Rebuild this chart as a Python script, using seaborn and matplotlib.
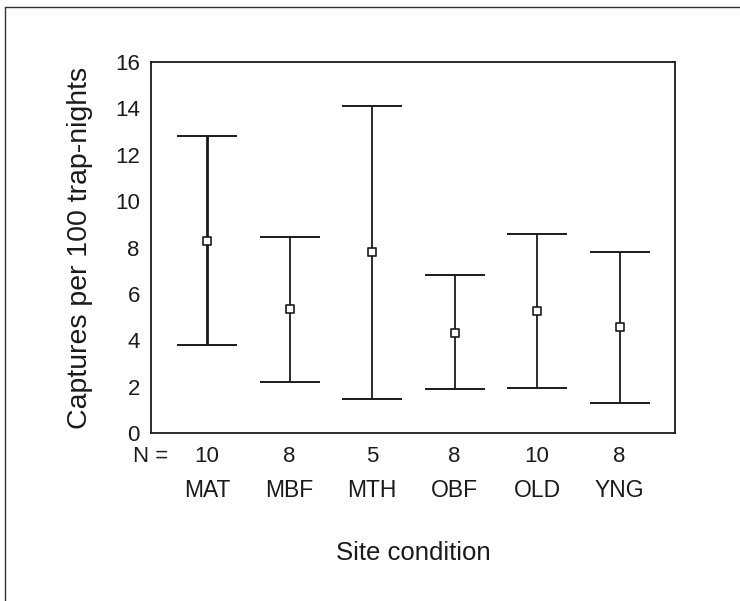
import numpy as np
import pandas as pd
import seaborn as sns
import matplotlib.pyplot as plt
from matplotlib.lines import Line2D

# values
sites = ["MAT", "MBF", "MTH", "OBF", "OLD", "YNG"]
n_sites = [10, 8, 5, 8, 10, 8]
mean_capt = [8.3, 5.33, 7.8, 4.32, 5.28, 4.58]
upper_ci = [12.8, 8.45, 14.1, 6.8, 8.6, 7.8]
lower_ci = [3.8, 2.2, 1.48, 1.9, 1.95, 1.3]
bar_width = [2.0, 1.3, 1.3, 1.3, 1.3, 1.3]

sns.set_style("white")
plt.rcParams['font.family'] = ['Liberation Sans', 'DejaVu Sans']

df = pd.DataFrame({"site": sites, "mean": mean_capt,
                   "lo": lower_ci, "hi": upper_ci, "n": n_sites})

fig = plt.figure(figsize=(7.4, 6.01), dpi=100)
ax = fig.add_axes([0.204, 0.2795, 0.708, 0.6173])

# error bars
for i, row in df.iterrows():
    ax.errorbar(i, row["mean"],
                yerr=[[row["mean"] - row["lo"]], [row["hi"] - row["mean"]]],
                fmt="none", ecolor="#1a1a1a", elinewidth=bar_width[i],
                capsize=21.5, capthick=1.4, zorder=2)

sns.scatterplot(data=df, x="site", y="mean", marker="s", s=26,
                facecolor="white", edgecolor="#1a1a1a", linewidth=1.2,
                ax=ax, zorder=3, legend=False)

ax.set_xlim(-0.68, 5.67)
ax.set_ylim(0, 16)
ax.set_yticks(np.arange(0, 17, 2))
ax.set_xticks(range(len(sites)))
ax.set_xticklabels([str(n) for n in n_sites])
ax.tick_params(axis="both", direction="out", length=5, width=1,
               color="#1a1a1a", labelsize=16, labelcolor="#1a1a1a")
ax.tick_params(axis="x", pad=4)
ax.tick_params(axis="y", pad=3)

for sp in ax.spines.values():
    sp.set_visible(True)
    sp.set_color("#1a1a1a")
    sp.set_linewidth(1.3)

ax.set_xlabel("Site condition", fontsize=18.5, color="#1a1a1a")
ax.xaxis.set_label_coords(0.5, -0.292)
ax.set_ylabel("Captures per 100 trap-nights", fontsize=20.5, color="#1a1a1a")
ax.yaxis.set_label_coords(-0.11, 0.5)

# second row of category labels and "N ="
for i, s in enumerate(sites):
    ax.text(i, -0.154, s, transform=ax.get_xaxis_transform(),
            ha="center", va="center", fontsize=16.5, color="#1a1a1a")
ax.text(0.0, -0.064, "N =", transform=ax.transAxes,
        ha="center", va="center", fontsize=16, color="#1a1a1a")

# outer frame (top and left edge of the scanned page)
fig.add_artist(Line2D([0.0068, 0.0068], [0.0, 0.988], transform=fig.transFigure,
                      color="#333333", lw=1.0))
fig.add_artist(Line2D([0.0068, 1.0], [0.988, 0.988], transform=fig.transFigure,
                      color="#333333", lw=1.0))

fig.savefig("out.png", dpi=100, facecolor="white")
